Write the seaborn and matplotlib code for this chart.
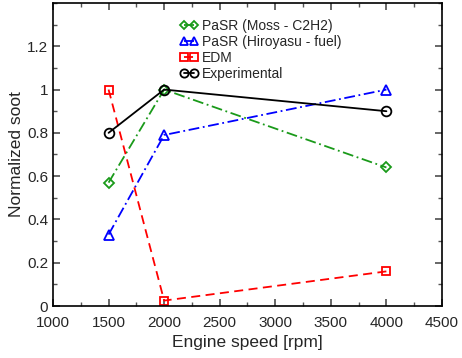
import matplotlib
matplotlib.use("Agg")
import matplotlib.pyplot as plt
import seaborn as sns
import pandas as pd
from matplotlib.ticker import MultipleLocator, FuncFormatter

sns.set_theme(style="ticks")
plt.rcParams['font.family'] = ['Liberation Sans', 'DejaVu Sans']

speeds = [1500, 2000, 4000]
moss = [0.57, 1.0, 0.64]
hiroyasu = [0.33, 0.79, 1.0]
edm = [1.0, 0.025, 0.16]
experimental = [0.80, 1.0, 0.90]

series = [
    ("PaSR (Moss - C2H2)", moss, "#1a9a1a", "D", (0, (6, 2, 1, 2)), 5),
    ("PaSR (Hiroyasu - fuel)", hiroyasu, "#0000ff", "^", (0, (6, 2, 1, 2)), 7),
    ("EDM", edm, "#ff0000", "s", (0, (5, 3)), 6),
    ("Experimental", experimental, "black", "o", "-", 7),
]

fig = plt.figure(figsize=(4.62, 3.58), dpi=100)
ax = fig.add_axes([53/462, 1-306/358, (442-53)/462, (306-3)/358])

for name, vals, col, mk, ls, ms in series:
    df = pd.DataFrame({"speed": speeds, "val": vals})
    sns.lineplot(data=df, x="speed", y="val", ax=ax, color=col, marker=mk,
                 linestyle=ls, markersize=ms, markerfacecolor="none",
                 markeredgecolor=col, markeredgewidth=1.3, linewidth=1.3,
                 label=name)

ax.set_xlim(1000, 4500)
ax.set_ylim(0, 1.4)
ax.xaxis.set_major_locator(MultipleLocator(500))
ax.xaxis.set_minor_locator(MultipleLocator(250))
ax.yaxis.set_minor_locator(MultipleLocator(0.1))
ax.set_yticks([0, 0.2, 0.4, 0.6, 0.8, 1.0, 1.2])
ax.yaxis.set_major_formatter(FuncFormatter(lambda v, p: f"{v:g}"))
ax.tick_params(which="both", direction="in", top=True, right=True, labelsize=11,
               color="#555555")
ax.tick_params(axis="x", which="major", pad=7)
ax.tick_params(which="major", length=5)
ax.tick_params(which="minor", length=3)
for s in ax.spines.values():
    s.set_color("black")
    s.set_linewidth(1.2)
ax.set_xlabel("Engine speed [rpm]", fontsize=12.5, labelpad=4)
ax.set_ylabel("Normalized soot", fontsize=12.5, labelpad=2)

leg = ax.legend(loc="upper left", bbox_to_anchor=(0.305, 0.975), frameon=False,
                fontsize=10, numpoints=2, handlelength=1.3, handletextpad=0.3,
                labelspacing=0.15, borderaxespad=0.2, markerscale=0.85)

fig.savefig("out.png", dpi=100)
